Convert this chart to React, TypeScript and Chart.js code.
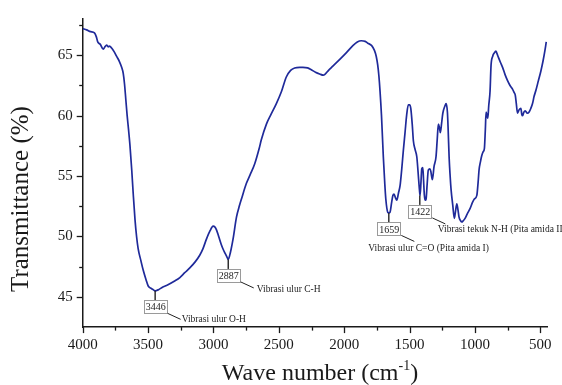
import React, { useEffect, useRef } from "react";
import { Chart, registerables } from "chart.js";

Chart.register(...registerables);

// ---- data ----
const wavenumbers = [
  4000, 3970, 3940, 3910, 3895, 3885, 3865, 3843, 3830, 3817, 3805, 3795, 3779, 3760, 3740, 3720, 3702, 3690, 3680, 3670,
  3660, 3650, 3639, 3625, 3614, 3600, 3588, 3576, 3555, 3537, 3515, 3499, 3475, 3461, 3446, 3420, 3390, 3359, 3300, 3257,
  3220, 3181, 3140, 3105, 3080, 3053, 3025, 3003, 2990, 2977, 2960, 2939, 2920, 2901, 2887, 2870, 2850, 2824, 2800, 2786,
  2748, 2720, 2685, 2650, 2634, 2595, 2560, 2519, 2480, 2443, 2410, 2379, 2340, 2316, 2280, 2252, 2220, 2188, 2160, 2150,
  2120, 2087, 2040, 1985, 1934, 1900, 1870, 1840, 1820, 1790, 1769, 1755, 1744, 1735, 1726, 1715, 1701, 1690, 1682, 1667,
  1659, 1650, 1637, 1628, 1619, 1608, 1598, 1585, 1573, 1560, 1548, 1535, 1522, 1510, 1500, 1491, 1480, 1471, 1458, 1445,
  1435, 1425, 1420, 1413, 1407, 1399, 1393, 1387, 1380, 1374, 1366, 1357, 1345, 1338, 1326, 1313, 1298, 1289, 1280, 1272,
  1265, 1255, 1246, 1230, 1221, 1211, 1205, 1198, 1190, 1183, 1170, 1158, 1150, 1139, 1130, 1122, 1110, 1101, 1090, 1076,
  1058, 1038, 1020, 1005, 986, 976, 969, 958, 948, 938, 928, 921, 915, 908, 902, 895, 885, 877, 865, 852,
  840, 834, 820, 805, 789, 770, 751, 732, 713, 700, 692, 684, 675, 662, 649, 642, 636, 626, 616, 600,
  586, 573, 560, 548, 534, 515, 496, 480, 465, 455,
];
const transmittance = [
  67.2, 67.1, 66.95, 66.85, 66.5, 66.1, 65.9, 65.5, 65.7, 65.85, 65.7, 65.75, 65.6, 65.3, 64.9, 64.5, 64.0, 63.5, 62.6, 61.3,
  60.0, 58.9, 57.6, 55.5, 53.6, 51.4, 50.0, 49.0, 48.0, 47.2, 46.4, 45.9, 45.7, 45.6, 45.5, 45.6, 45.8, 45.95, 46.3, 46.6,
  47.0, 47.4, 47.9, 48.45, 49.0, 49.8, 50.5, 50.85, 50.8, 50.55, 50.0, 49.3, 48.8, 48.4, 48.1, 48.7, 49.8, 51.6, 52.6, 53.1,
  54.4, 55.1, 56.0, 57.3, 58.0, 59.3, 60.1, 61.0, 62.0, 63.2, 63.75, 63.95, 64.0, 64.0, 63.95, 63.8, 63.6, 63.45, 63.35, 63.4,
  63.75, 64.1, 64.6, 65.2, 65.8, 66.1, 66.2, 66.15, 66.0, 65.8, 65.4, 64.9, 64.2, 63.3, 62.0, 60.0, 56.6, 54.4, 53.1, 52.0,
  51.95, 52.0, 52.85, 53.4, 53.5, 53.2, 53.0, 53.6, 54.2, 55.6, 57.1, 58.6, 60.1, 60.9, 60.9, 60.6, 59.3, 57.9, 57.2, 56.6,
  55.3, 53.9, 53.4, 54.5, 55.6, 55.7, 54.6, 53.4, 53.0, 53.1, 54.3, 55.5, 55.6, 55.4, 54.7, 55.8, 56.6, 58.0, 59.3, 59.0,
  58.6, 59.4, 60.2, 60.8, 61.0, 60.3, 58.8, 56.6, 55.0, 53.9, 52.6, 51.5, 52.0, 52.7, 52.2, 51.6, 51.3, 51.2, 51.3, 51.5,
  51.9, 52.3, 52.8, 53.1, 53.4, 54.5, 55.5, 56.2, 56.7, 57.0, 57.3, 58.8, 60.3, 60.0, 59.8, 60.8, 62.0, 64.2, 64.9, 65.2,
  65.35, 65.2, 64.8, 64.4, 64.0, 63.4, 62.9, 62.5, 62.2, 61.9, 61.7, 61.0, 60.2, 60.5, 60.6, 60.1, 60.0, 60.3, 60.4, 60.2,
  60.3, 60.6, 61.0, 61.6, 62.1, 62.9, 63.7, 64.5, 65.4, 66.1,
];

const xTickValues = [4000, 3500, 3000, 2500, 2000, 1500, 1000, 500];
const yTickValues = [45, 50, 55, 60, 65];
const xRange = [447, 4000];
const yRange = [42.5, 68];

const peakWavenumbers = [3446, 2887, 1659, 1422];
const peakLabels = ["3446", "2887", "1659", "1422"];
const peakDescriptions = [
  "Vibrasi ulur O-H",
  "Vibrasi ulur C-H",
  "Vibrasi ulur C=O (Pita amida I)",
  "Vibrasi tekuk N-H (Pita amida II)",
];

// ---- styling / layout (not data) ----
const SERIF = "'Liberation Serif', 'Times New Roman', serif";
const AXIS_COLOR = "#1a1a1a";
const LINE_COLOR = "#1f2a9a";
const calloutTextOffsets = [
  { dx: 1, dy: 0 },
  { dx: 3, dy: 2 },
  { dx: -46, dy: 7 },
  { dx: -7.5, dy: 5.6 },
];

function valueAt(wn: number): number {
  let best = 0;
  for (let i = 0; i < wavenumbers.length; i++) {
    if (Math.abs(wavenumbers[i] - wn) < Math.abs(wavenumbers[best] - wn)) best = i;
  }
  return transmittance[best];
}

const decorPlugin = {
  id: "decor",
  afterDraw(chart: any) {
    const ctx = chart.ctx;
    const xs = chart.scales.x;
    const ys = chart.scales.y;
    const area = chart.chartArea;
    ctx.save();

    // ticks (outward)
    ctx.strokeStyle = AXIS_COLOR;
    ctx.lineWidth = 1.3;
    const xMinor: number[] = [];
    for (let i = 0; i < xTickValues.length - 1; i++) xMinor.push((xTickValues[i] + xTickValues[i + 1]) / 2);
    const yMinor: number[] = [yTickValues[0] - 2.5];
    for (let i = 0; i < yTickValues.length - 1; i++) yMinor.push((yTickValues[i] + yTickValues[i + 1]) / 2);
    yMinor.push(yTickValues[yTickValues.length - 1] + 2.5);
    const drawX = (v: number, len: number) => {
      const p = Math.round(xs.getPixelForValue(v)) + 0.5;
      ctx.beginPath();
      ctx.moveTo(p, area.bottom);
      ctx.lineTo(p, area.bottom + len);
      ctx.stroke();
    };
    const drawY = (v: number, len: number) => {
      const p = Math.round(ys.getPixelForValue(v)) + 0.5;
      ctx.beginPath();
      ctx.moveTo(area.left, p);
      ctx.lineTo(area.left - len, p);
      ctx.stroke();
    };
    xTickValues.forEach((v) => drawX(v, 6));
    xMinor.forEach((v) => drawX(v, 3.5));
    yTickValues.forEach((v) => drawY(v, 6));
    yMinor.forEach((v) => v > yRange[0] && drawY(v, 3.5));

    // callouts
    peakWavenumbers.forEach((wn, i) => {
      const px = xs.getPixelForValue(wn);
      const py = ys.getPixelForValue(valueAt(wn));
      const boxW = 23;
      const boxH = 13;
      const gap = 9.5;
      const boxTop = py + gap;
      const boxLeft = px - boxW / 2;
      ctx.strokeStyle = "#222";
      ctx.lineWidth = 1.4;
      ctx.beginPath();
      ctx.moveTo(px, py);
      ctx.lineTo(px, boxTop);
      ctx.stroke();
      ctx.fillStyle = "#fff";
      ctx.fillRect(boxLeft, boxTop, boxW, boxH);
      ctx.strokeStyle = "#9a9a9a";
      ctx.lineWidth = 1;
      ctx.strokeRect(Math.round(boxLeft) + 0.5, Math.round(boxTop) + 0.5, boxW, boxH);
      ctx.fillStyle = "#222";
      ctx.font = `10px ${SERIF}`;
      ctx.textAlign = "center";
      ctx.textBaseline = "middle";
      ctx.fillText(peakLabels[i], px + 0.5, boxTop + boxH / 2 + 1);
      // leader
      const sx = boxLeft + boxW + 1;
      const sy = boxTop + boxH;
      const ex = sx + 13;
      const ey = sy + 6;
      ctx.strokeStyle = "#222";
      ctx.lineWidth = 1;
      ctx.beginPath();
      ctx.moveTo(sx, sy);
      ctx.lineTo(ex, ey);
      ctx.stroke();
      ctx.textAlign = "left";
      ctx.font = `9.5px ${SERIF}`;
      ctx.fillText(peakDescriptions[i], ex + calloutTextOffsets[i].dx, ey + calloutTextOffsets[i].dy);
    });

    // axis titles
    ctx.fillStyle = "#1a1a1a";
    ctx.font = `25px ${SERIF}`;
    ctx.textAlign = "center";
    ctx.textBaseline = "middle";
    ctx.save();
    ctx.translate(21, (area.top + area.bottom) / 2 + 26);
    ctx.rotate(-Math.PI / 2);
    ctx.fillText("Transmittance (%)", 0, 0);
    ctx.restore();

    ctx.textBaseline = "alphabetic";
    const main = "Wave number (cm";
    ctx.font = `24px ${SERIF}`;
    const wMain = ctx.measureText(main).width;
    ctx.font = `14px ${SERIF}`;
    const wSup = ctx.measureText("-1").width;
    ctx.font = `24px ${SERIF}`;
    const wClose = ctx.measureText(")").width;
    const total = wMain + wSup + wClose;
    const startX = 320 - total / 2;
    const baseY = 380;
    ctx.textAlign = "left";
    ctx.fillText(main, startX, baseY);
    ctx.font = `14px ${SERIF}`;
    ctx.fillText("-1", startX + wMain, baseY - 10);
    ctx.font = `24px ${SERIF}`;
    ctx.fillText(")", startX + wMain + wSup, baseY);

    ctx.restore();
  },
};

export default function App() {
  const ref = useRef<HTMLCanvasElement | null>(null);
  useEffect(() => {
    if (!ref.current) return;
    const points = wavenumbers.map((w, i) => ({ x: w, y: transmittance[i] }));
    const chart = new Chart(ref.current, {
      type: "line",
      data: {
        datasets: [
          {
            data: points,
            borderColor: LINE_COLOR,
            borderWidth: 1.7,
            pointRadius: 0,
            cubicInterpolationMode: "monotone",
            fill: false,
          },
        ],
      },
      options: {
        animation: false,
        responsive: false,
        events: [],
        layout: { padding: { left: 0, top: 9.6, right: 14.7, bottom: 0 } },
        plugins: { legend: { display: false }, tooltip: { enabled: false } },
        scales: {
          x: {
            type: "linear",
            reverse: true,
            min: xRange[0],
            max: xRange[1],
            afterBuildTicks: (s: any) => {
              s.ticks = xTickValues.map((v) => ({ value: v }));
            },
            afterFit: (s: any) => {
              s.height = 385 - 327.1;
            },
            grid: { display: false, drawTicks: false, tickLength: 0 },
            border: { display: true, color: AXIS_COLOR, width: 1.5 },
            ticks: {
              color: "#1a1a1a",
              font: { family: SERIF, size: 15 },
              padding: 9,
              maxRotation: 0,
              autoSkip: false,
              callback: (v: any) => String(v),
            },
          },
          y: {
            type: "linear",
            min: yRange[0],
            max: yRange[1],
            afterBuildTicks: (s: any) => {
              s.ticks = yTickValues.map((v) => ({ value: v }));
            },
            afterFit: (s: any) => {
              s.width = 82.7;
            },
            grid: { display: false, drawTicks: false, tickLength: 0 },
            border: { display: true, color: AXIS_COLOR, width: 1.5 },
            ticks: {
              color: "#1a1a1a",
              font: { family: SERIF, size: 15 },
              padding: 10,
              autoSkip: false,
              callback: (v: any) => String(v),
            },
          },
        },
      },
      plugins: [decorPlugin],
    } as any);
    return () => chart.destroy();
  }, []);
  return (
    <div style={{ position: "fixed", left: 0, top: 0, width: 562, height: 385, background: "#fff" }}>
      <canvas ref={ref} width={562} height={385} style={{ display: "block", width: 562, height: 385 }} />
    </div>
  );
}
